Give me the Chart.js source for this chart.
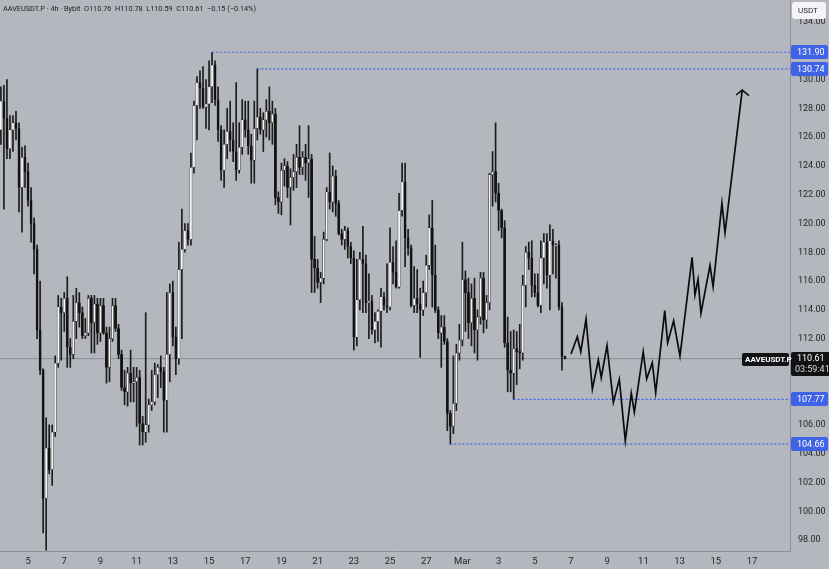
<!DOCTYPE html>
<html>
<head>
<meta charset="utf-8">
<script src="https://cdn.jsdelivr.net/npm/chart.js@4.4.1/dist/chart.umd.min.js"></script>
<style>
  html, body { margin: 0; padding: 0; background: #b4b7be; }
  #wrap { width: 829px; height: 569px; }
</style>
</head>
<body>
<div id="wrap"><canvas id="chart" width="829" height="569"></canvas></div>
<script>
// AAVEUSDT.P 4h candles, days counted from Feb 0 (Feb 5 = 5, Mar 1 = 29)
var firstDay = 3.5;
var candleStep = 1 / 6;

var openPrices = [
    126.5,128.5,127.3,125.2,126.5,127.0,126.6,122.5,124.6,123.6,
    121.6,120.0,118.2,112.6,109.8,100.9,104.4,102.9,105.5,110.3,
    114.2,113.8,114.8,111.4,110.9,113.2,114.5,113.8,112.2,112.4,
    114.8,113.1,114.4,112.4,114.3,112.4,110.0,112.0,114.3,112.7,
    110.9,108.6,108.3,109.6,108.9,109.0,109.3,106.1,105.5,106.0,
    107.4,107.6,109.5,110.0,109.7,107.7,110.9,115.2,112.1,110.6,
    116.8,118.2,119.5,118.9,123.9,128.2,129.8,129.4,128.1,128.3,
    129.5,131.0,128.6,126.5,123.7,125.5,126.4,125.8,125.0,123.7,
    125.3,127.2,126.5,125.4,124.4,126.6,127.4,126.5,127.2,127.8,
    127.0,127.6,121.8,121.5,123.7,124.0,122.5,123.2,123.6,124.6,
    123.9,124.6,124.2,124.5,117.5,116.9,115.9,116.2,118.9,122.2,
    121.5,123.3,121.4,119.3,118.9,119.5,118.4,
    117.6,112.1,114.7,117.5,117.2,114.5,114.6,112.6,113.2,113.9,
    114.9,114.3,114.2,117.3,116.6,115.6,120.9,122.9,119.0,118.3,
    114.3,114.8,114.4,114.0,115.2,117.1,119.7,116.4,114.0,112.4,
    112.8,111.8,106.8,105.9,107.5,111.0,111.9,116.1,115.2,113.1,
    114.8,112.6,113.5,116.2,113.3,114.5,123.4,123.6,122.1,120.9,
    119.7,111.7,109.8,109.6,111.3,111.1,111.0,115.7,118.0,117.6,
    115.7,115.2,114.3,117.6,118.7,116.4,118.8,
    118.4,118.5,114.2,110.76
];
var highPrices = [
    129.5,129.6,130.0,127.5,127.5,127.8,127.0,125.3,125.4,124.2,
    122.5,120.4,118.5,116.0,109.9,106.5,106.0,106.0,110.8,115.0,
    114.8,115.2,116.3,112.0,115.0,115.5,115.2,114.2,113.4,115.0,
    115.0,115.0,114.8,114.8,114.8,112.8,112.8,114.8,114.8,113.0,
    111.2,109.8,110.0,111.2,110.0,110.0,109.8,106.6,113.8,107.8,
    109.8,110.3,110.2,110.8,110.0,115.2,115.8,116.0,112.8,118.7,
    121.0,120.0,120.0,124.9,128.5,130.2,130.6,130.9,130.0,131.3,
    131.9,131.3,129.5,126.8,126.5,128.0,128.5,127.0,129.8,127.0,
    128.6,128.5,128.5,126.2,128.5,130.74,128.0,127.7,128.6,129.5,
    128.5,128.0,122.2,124.2,124.5,124.3,123.8,124.8,125.5,126.8,
    125.0,125.5,126.8,124.8,119.1,117.5,116.6,119.4,122.5,124.9,
    124.0,123.7,121.6,119.6,119.8,119.7,118.7,
    118.1,117.5,118.0,119.8,117.8,116.5,115.0,113.8,114.0,115.5,
    115.2,117.2,119.7,118.4,118.8,122.1,124.2,124.2,119.6,118.5,
    117.0,116.8,115.5,116.0,117.8,120.6,121.6,118.5,114.2,113.6,
    113.6,112.0,107.0,110.8,111.6,113.0,118.7,116.7,116.2,115.8,
    116.2,114.0,116.6,116.6,115.0,123.5,125.0,127.0,122.8,121.0,
    120.2,113.5,112.5,112.6,112.5,113.0,116.4,118.4,118.7,118.8,
    116.5,116.5,118.8,119.3,119.3,119.9,119.6,
    118.6,118.8,114.5,110.78
];
var lowPrices = [
    125.5,121.0,124.5,124.5,125.0,125.8,120.8,119.4,122.5,121.2,
    118.7,116.5,112.0,109.5,98.5,97.3,102.6,101.8,105.2,110.0,
    110.5,112.5,110.0,110.0,110.6,112.0,112.8,112.0,112.0,112.2,
    111.0,111.0,111.6,111.8,112.3,108.9,109.0,111.8,112.5,110.6,
    108.4,107.4,107.3,107.6,107.6,105.9,104.6,104.6,104.8,105.5,
    107.0,107.4,107.9,108.6,105.5,105.5,109.0,111.5,109.5,110.2,
    112.0,118.0,118.5,118.5,123.5,125.8,128.0,128.0,126.6,126.5,
    128.4,128.2,125.7,123.0,122.5,124.5,125.0,124.3,123.0,123.5,
    124.8,126.0,124.8,122.8,122.8,125.8,126.2,125.0,126.0,125.8,
    125.5,121.3,120.7,120.6,122.6,121.8,119.9,122.3,122.5,123.4,
    123.4,123.0,121.8,115.2,115.2,115.5,114.5,115.8,118.8,121.0,
    120.8,120.5,119.2,118.5,118.2,117.6,117.2,
    111.2,111.5,114.0,113.8,113.8,112.0,112.3,111.7,111.8,111.4,
    114.0,113.8,114.0,115.8,115.5,115.5,120.5,117.0,117.8,114.2,
    113.8,113.8,110.7,113.6,114.2,116.8,114.2,113.8,112.0,110.0,
    111.6,105.6,104.66,105.4,107.0,110.5,111.5,112.5,112.0,111.5,
    111.0,110.5,113.0,112.4,112.7,114.0,121.2,121.5,119.5,119.0,
    111.4,108.3,108.3,107.77,108.8,109.9,110.5,114.2,116.8,114.9,
    114.9,114.2,113.8,115.8,115.5,114.0,116.5,
    116.2,114.0,109.8,110.59
];
var closePrices = [
    128.5,127.3,125.2,126.5,127.0,126.6,122.5,124.6,123.6,121.6,
    120.0,118.2,112.6,109.8,100.9,104.4,102.9,105.5,110.3,114.2,
    113.8,114.8,111.4,110.9,113.2,114.5,113.8,112.2,112.4,114.8,
    113.1,114.4,112.4,114.3,112.4,110.0,112.0,114.3,112.7,110.9,
    108.6,108.3,109.6,108.9,109.0,109.3,106.1,105.5,106.0,107.4,
    107.6,109.5,110.0,109.7,107.7,110.9,115.2,112.1,110.6,116.8,
    118.2,119.5,118.9,123.9,128.2,129.8,129.4,128.1,128.3,129.5,
    131.0,128.6,126.5,123.7,125.5,126.4,125.8,125.0,123.7,125.3,
    127.2,126.5,125.4,124.4,126.6,127.4,126.5,127.2,127.8,127.0,
    127.6,121.8,121.5,123.7,124.0,122.5,123.2,123.6,124.6,123.9,
    124.6,124.2,124.5,117.5,116.9,115.9,116.2,118.9,122.2,121.5,
    123.3,121.4,119.3,118.9,119.5,118.4,117.6,
    112.1,114.7,117.5,117.2,114.5,114.6,112.6,113.2,113.9,114.9,
    114.3,114.2,117.3,116.6,115.6,120.9,122.9,119.0,118.3,114.3,
    114.8,114.4,114.0,115.2,117.1,119.7,116.4,114.0,112.4,112.8,
    111.8,106.8,105.9,107.5,111.0,111.9,116.1,115.2,113.1,114.8,
    112.6,113.5,116.2,113.3,114.5,123.4,123.6,122.1,120.9,119.7,
    111.7,109.8,109.6,111.3,111.1,111.0,115.7,118.0,117.6,115.7,
    115.2,114.3,117.6,118.7,116.4,118.8,118.5,
    118.5,114.2,110.76,110.61
];

var lastPrice = 110.61;
var levelPrices = [131.90, 130.74, 107.77, 104.66];
var levelStartDays = [15.17, 17.67, 31.83, 28.33];

// projected path drawn on the chart
var pathDays = [35.0,35.35,35.54,35.83,36.18,36.51,36.67,36.99,37.34,37.67,
    38.0,38.33,38.5,38.99,39.18,39.49,39.68,40.18,40.34,40.67,
    41.02,41.69,41.85,42.02,42.18,42.68,42.85,43.34,43.51,44.46];
var pathPrices = [110.93,112.13,111.09,113.36,108.48,110.51,109.28,111.51,107.57,109.17,
    104.9,108.2,106.88,111.09,109.19,110.32,108.24,113.94,111.71,113.24,
    110.79,117.65,115.03,116.12,113.76,117.09,115.61,121.4,119.36,129.27];
var arrowDays = [44.12, 44.46, 44.83];
var arrowPrices = [128.93, 129.27, 128.88];

var dayTicks = [5,7,9,11,13,15,17,19,21,23,25,27,29,31,33,35,37,39,41,43,45];
// 108, 110 and 132 sit under the price labels
var priceTicks = [98,100,102,104,106,112,114,116,118,120,122,124,126,128,130,134];

var wickData = [], bodyData = [], bodyColors = [];
for (var i = 0; i < openPrices.length; i++) {
    var day = firstDay + i * candleStep;
    wickData.push({x: day, y: [lowPrices[i], highPrices[i]]});
    bodyData.push({x: day, y: [openPrices[i], closePrices[i]]});
    bodyColors.push(closePrices[i] >= openPrices[i] ? '#f4f4f4' : '#121212');
}

var xMin = 3.45, xMax = 47.1;
var levelColor = '#3f63e6';

var datasets = [{
    type: 'line',
    data: [{x: xMin, y: lastPrice}, {x: xMax, y: lastPrice}],
    borderColor: '#8c8f97', borderWidth: 1, pointRadius: 0, order: 9
}, {
    type: 'bar',
    data: wickData,
    backgroundColor: '#1c1c1c', barThickness: 1, grouped: false, order: 6
}, {
    type: 'bar',
    data: bodyData,
    backgroundColor: bodyColors, borderColor: '#1c1c1c', borderWidth: 0.5,
    borderSkipped: false, barThickness: 2.2, minBarLength: 1, grouped: false, order: 5
}, {
    type: 'line',
    data: pathDays.map(function (d, i) { return {x: d, y: pathPrices[i]}; }),
    borderColor: '#0c0c0c', borderWidth: 1.7, pointRadius: 0, tension: 0, order: 1
}, {
    type: 'line',
    data: arrowDays.map(function (d, i) { return {x: d, y: arrowPrices[i]}; }),
    borderColor: '#0c0c0c', borderWidth: 1.5, pointRadius: 0, tension: 0, order: 1
}];
levelPrices.forEach(function (p, i) {
    datasets.push({
        type: 'line',
        data: [{x: levelStartDays[i], y: p}, {x: xMax, y: p}],
        borderColor: levelColor, borderWidth: 1.2, borderDash: [2, 2],
        pointRadius: 0, order: 3
    });
});

function box(ctx, x, y, w, h, r) {
    ctx.beginPath();
    ctx.roundRect(x, y, w, h, r);
    ctx.fill();
}

var overlay = {
    id: 'overlay',
    beforeDraw: function (chart) {
        var ctx = chart.ctx;
        ctx.save();
        ctx.fillStyle = '#b4b7be';
        ctx.fillRect(0, 0, chart.width, chart.height);
        ctx.restore();
    },
    afterDraw: function (chart) {
        var ctx = chart.ctx, ys = chart.scales.y, area = chart.chartArea;
        ctx.save();
        ctx.textBaseline = 'middle';

        // header
        ctx.font = '7.3px Roboto';
        ctx.fillStyle = '#202226';
        ctx.fillText('AAVEUSDT.P \u00b7 4h \u00b7 Bybit  O110.76  H110.78  L110.59  C110.61  \u22120.15 (\u22120.14%)', 3, 9);

        // USDT box
        ctx.fillStyle = '#f4f4f6';
        box(ctx, area.right + 2, 2, 34, 17, 3);
        ctx.fillStyle = '#2a2c31';
        ctx.font = '8px Roboto';
        ctx.fillText('USDT', area.right + 8, 11);

        // level labels
        ctx.font = '9px Roboto';
        levelPrices.forEach(function (p) {
            var py = Math.round(ys.getPixelForValue(p));
            ctx.fillStyle = levelColor;
            box(ctx, area.right + 1, py - 7, 37, 14, 2);
            ctx.fillStyle = '#ffffff';
            ctx.fillText(p.toFixed(2), area.right + 7, py + 0.5);
        });

        // last price labels
        var ly = Math.round(ys.getPixelForValue(lastPrice));
        ctx.fillStyle = '#111214';
        box(ctx, area.right + 1, ly - 7, 39, 24, 2);
        box(ctx, area.right - 48, ly - 6, 47, 13, 2);
        ctx.fillStyle = '#ffffff';
        ctx.font = '9px Roboto';
        ctx.fillText(lastPrice.toFixed(2), area.right + 7, ly);
        ctx.fillStyle = '#d8d9dc';
        ctx.fillText('03:59:41', area.right + 5, ly + 11);
        ctx.fillStyle = '#ffffff';
        ctx.font = 'bold 8px Roboto';
        ctx.fillText('AAVEUSDT.P', area.right - 45, ly + 0.5);
        ctx.restore();
    }
};

new Chart(document.getElementById('chart').getContext('2d'), {
    type: 'bar',
    data: { datasets: datasets },
    options: {
        responsive: false,
        animation: false,
        layout: { padding: 0 },
        plugins: { legend: { display: false }, tooltip: { enabled: false } },
        scales: {
            x: {
                type: 'linear', min: xMin, max: xMax, offset: false,
                grid: { display: false, drawTicks: false },
                border: { display: true, color: '#8e9199' },
                afterBuildTicks: function (axis) {
                    axis.ticks = dayTicks.map(function (v) { return {value: v}; });
                },
                afterFit: function (axis) {
                    axis.height = 18;
                    axis.paddingLeft = 0;
                    axis.paddingRight = 0;
                },
                ticks: {
                    color: '#24262b', padding: 5, maxRotation: 0, autoSkip: false,
                    font: { family: 'Roboto', size: 9.5 },
                    callback: function (v) {
                        if (v <= 28) return '' + v;
                        if (v === 29) return 'Mar';
                        return '' + (v - 28);
                    }
                }
            },
            y: {
                position: 'right', min: 97.24, max: 135.53,
                grid: { display: false, drawTicks: false },
                border: { display: true, color: '#8e9199' },
                afterBuildTicks: function (axis) {
                    axis.ticks = priceTicks.map(function (v) { return {value: v}; });
                },
                afterFit: function (axis) {
                    axis.width = 39;
                    axis.paddingTop = 0;
                    axis.paddingBottom = 0;
                },
                ticks: {
                    color: '#24262b', padding: 8,
                    font: { family: 'Roboto', size: 9 },
                    callback: function (v) { return v.toFixed(2); }
                }
            }
        }
    },
    plugins: [overlay]
});
</script>
</body>
</html>
